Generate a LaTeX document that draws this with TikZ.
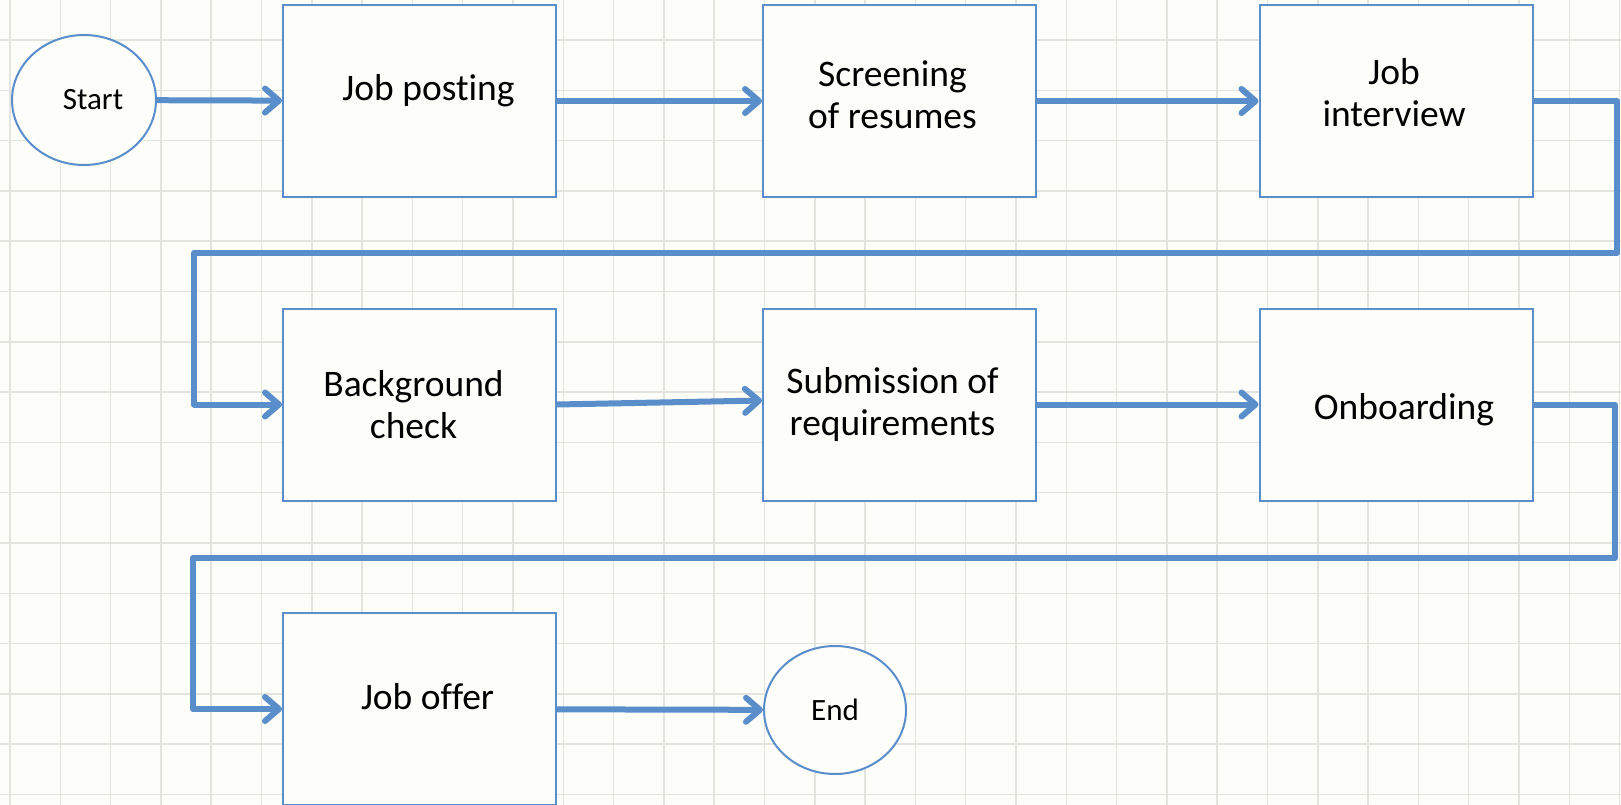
\documentclass[tikz,border=0pt]{standalone}
\usepackage{fontspec}
\setmainfont[Ligatures=NoCommon]{Carlito}
\usetikzlibrary{arrows.meta,shapes.geometric}
\definecolor{flowblue}{RGB}{90,142,203}
\definecolor{gridgray}{RGB}{228,228,223}
\definecolor{paper}{RGB}{253,253,250}
\begin{document}
\begin{tikzpicture}[x=1pt, y=-1pt,
  box/.style={draw=flowblue, line width=2pt, fill=paper, minimum width=273pt,
              minimum height=192pt},
  boxtext/.style={align=center, font=\fontsize{37.5}{42}\selectfont},
  oval/.style={ellipse, draw=flowblue, line width=2pt, fill=paper,
               font=\fontsize{31}{36}\selectfont},
  flow/.style={draw=flowblue, line width=6pt, line join=round,
               -{Straight Barb[round, length=14pt, width=24pt]}}]
\fill[paper] (0,0) rectangle (1621,805);
\useasboundingbox (0,0) rectangle (1621,805);
\foreach \k in {0,...,32}
  \draw[gridgray, line width=1.5pt] (10+\k*50.3,0) -- (10+\k*50.3,805);
\foreach \k in {0,...,15}
  \draw[gridgray, line width=1.5pt] (0,40+\k*50.3) -- (1621,40+\k*50.3);
% first row
\node[oval, minimum width=144pt, minimum height=130pt,
      label={[oval, draw=none, fill=none, xshift=9pt]center:Start}] (start) at (84,100) {};
\node[box, label={[boxtext, xshift=9pt, yshift=10pt]center:Job posting}] (post) at (419.5,101) {};
\node[box, label={[boxtext, xshift=-7pt, yshift=6pt]center:Screening\\of resumes}] (screen) at (899.5,101) {};
\node[box, label={[boxtext, xshift=-2pt, yshift=8pt]center:Job\\interview}] (interview) at (1396,101) {};
% second row
\node[box, label={[boxtext, xshift=-6pt]center:Background\\check}] (check) at (419.5,404.5) {};
\node[box, label={[boxtext, xshift=-7pt]center:Submission of\\requirements}] (submit) at (899.5,404.5) {};
\node[box, label={[boxtext, xshift=8pt, yshift=-5pt]center:Onboarding}] (onboard) at (1396,404.5) {};
% third row
\node[box, label={[boxtext, xshift=8pt, yshift=12pt]center:Job offer}] (offer) at (419.5,709) {};
\node[oval, minimum width=142pt, minimum height=128pt] (end) at (835,710) {End};
\coordinate (turnA) at (1617,253);
\coordinate (backA) at (194,253);
\coordinate (turnB) at (1615,558);
\coordinate (backB) at (193,558);
\draw[flow] (start) -- (post);
\draw[flow] (post) -- (screen);
\draw[flow] (screen) -- (interview);
\draw[flow] (interview.east) -| (turnA) -- (backA) |- (check.west);
\draw[flow] (check.east) -- ([yshift=4pt]submit.west);
\draw[flow] (submit) -- (onboard);
\draw[flow] (onboard.east) -| (turnB) -- (backB) |- (offer.west);
\draw[flow] (offer) -- (end);
\end{tikzpicture}
\end{document}
